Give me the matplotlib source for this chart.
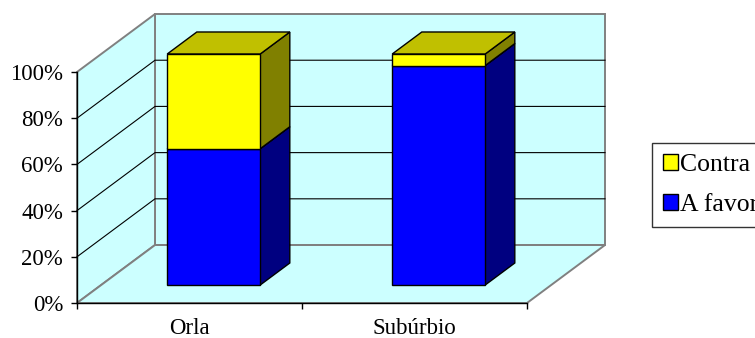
import matplotlib
matplotlib.use("Agg")
import matplotlib.pyplot as plt
from matplotlib.patches import Polygon, Patch

plt.rcParams['font.family'] = ['Liberation Serif', 'DejaVu Serif']

# dados
categorias = ['Orla', 'Subúrbio']
a_favor = [59, 95]
contra = [41, 5]
yticks = [0, 20, 40, 60, 80, 100]

# cores (frente, lado, topo)
cor_favor = ('#0000FF', '#000080', '#0000C0')
cor_contra = ('#FFFF00', '#808000', '#C0C000')
parede = '#CCFFFF'
borda = '#808080'

# deslocamento da profundidade (unidades de categoria / percentual)
DX = 78 / 225
DY = 25.1


def P(x, v, d):
    return (x + d * DX, v + d * DY)


fig = plt.figure(figsize=(7.55, 3.38), dpi=100)
ax = fig.add_axes([77 / 755, 35 / 338, 450 / 755, 231 / 338])
ax.set_xlim(0, len(categorias))
ax.set_ylim(0, 100)
ax.patch.set_visible(False)

n = len(categorias)


def poly(pts, fc, ec, lw, z):
    p = Polygon(pts, closed=True, facecolor=fc, edgecolor=ec, linewidth=lw,
                zorder=z, clip_on=False, joinstyle='miter')
    ax.add_patch(p)


# paredes e piso
poly([P(0, 0, 1), P(n, 0, 1), P(n, 100, 1), P(0, 100, 1)], parede, borda, 1.4, 1)
poly([P(0, 0, 0), P(0, 0, 1), P(0, 100, 1), P(0, 100, 0)], parede, borda, 1.4, 1)
poly([P(0, 0, 0), P(n, 0, 0), P(n, 0, 1), P(0, 0, 1)], parede, borda, 1.4, 1)

# linhas de grade
for v in yticks[1:-1]:
    xs, ys = zip(P(0, v, 0), P(0, v, 1), P(n, v, 1))
    ax.plot(xs, ys, color='black', lw=0.8, zorder=2, clip_on=False)

# barras 3D empilhadas
W = 93 / 225
d0, d1 = 0.31, 0.69
for i in range(n):
    cx = i + 0.5
    x0, x1 = cx - W / 2, cx + W / 2
    base = 0
    for val, cores in ((a_favor[i], cor_favor), (contra[i], cor_contra)):
        topo = base + val
        frente, lado, cima = cores
        poly([P(x1, base, d0), P(x1, base, d1), P(x1, topo, d1), P(x1, topo, d0)],
             lado, 'black', 1.0, 3)
        poly([P(x0, topo, d0), P(x1, topo, d0), P(x1, topo, d1), P(x0, topo, d1)],
             cima, 'black', 1.0, 3)
        poly([P(x0, base, d0), P(x1, base, d0), P(x1, topo, d0), P(x0, topo, d0)],
             frente, 'black', 1.0, 3)
        base = topo

# eixos
for s in ('top', 'right'):
    ax.spines[s].set_visible(False)
for s in ('left', 'bottom'):
    ax.spines[s].set_color('black')
    ax.spines[s].set_linewidth(1.0)
    ax.spines[s].set_zorder(4)

ax.set_yticks(yticks)
ax.set_yticklabels([f'{v}%' for v in yticks])
ax.tick_params(axis='y', length=4, width=1, pad=6, labelsize=16.5)

ax.set_xticks(range(n + 1))
ax.set_xticklabels([])
ax.set_xticks([i + 0.5 for i in range(n)], minor=True)
ax.set_xticklabels(categorias, minor=True)
ax.tick_params(axis='x', which='major', length=4.5, width=1)
ax.tick_params(axis='x', which='minor', length=0, pad=11, labelsize=16.5)

# legenda (a caixa passa da borda direita da figura)
handles = [Patch(facecolor=cor_contra[0], edgecolor='black', label='Contra'),
           Patch(facecolor=cor_favor[0], edgecolor='black', label='A favor')]
leg = fig.legend(handles=handles, loc='upper left',
                 bbox_to_anchor=(652 / 755, 1 - 143 / 338), fontsize=18.5,
                 frameon=True, fancybox=False, edgecolor='black',
                 borderpad=0.42, handlelength=0.58, handleheight=0.58,
                 handletextpad=0.08, labelspacing=0.72, borderaxespad=0)
leg.get_frame().set_linewidth(1.0)

fig.savefig('out.png', dpi=100)
